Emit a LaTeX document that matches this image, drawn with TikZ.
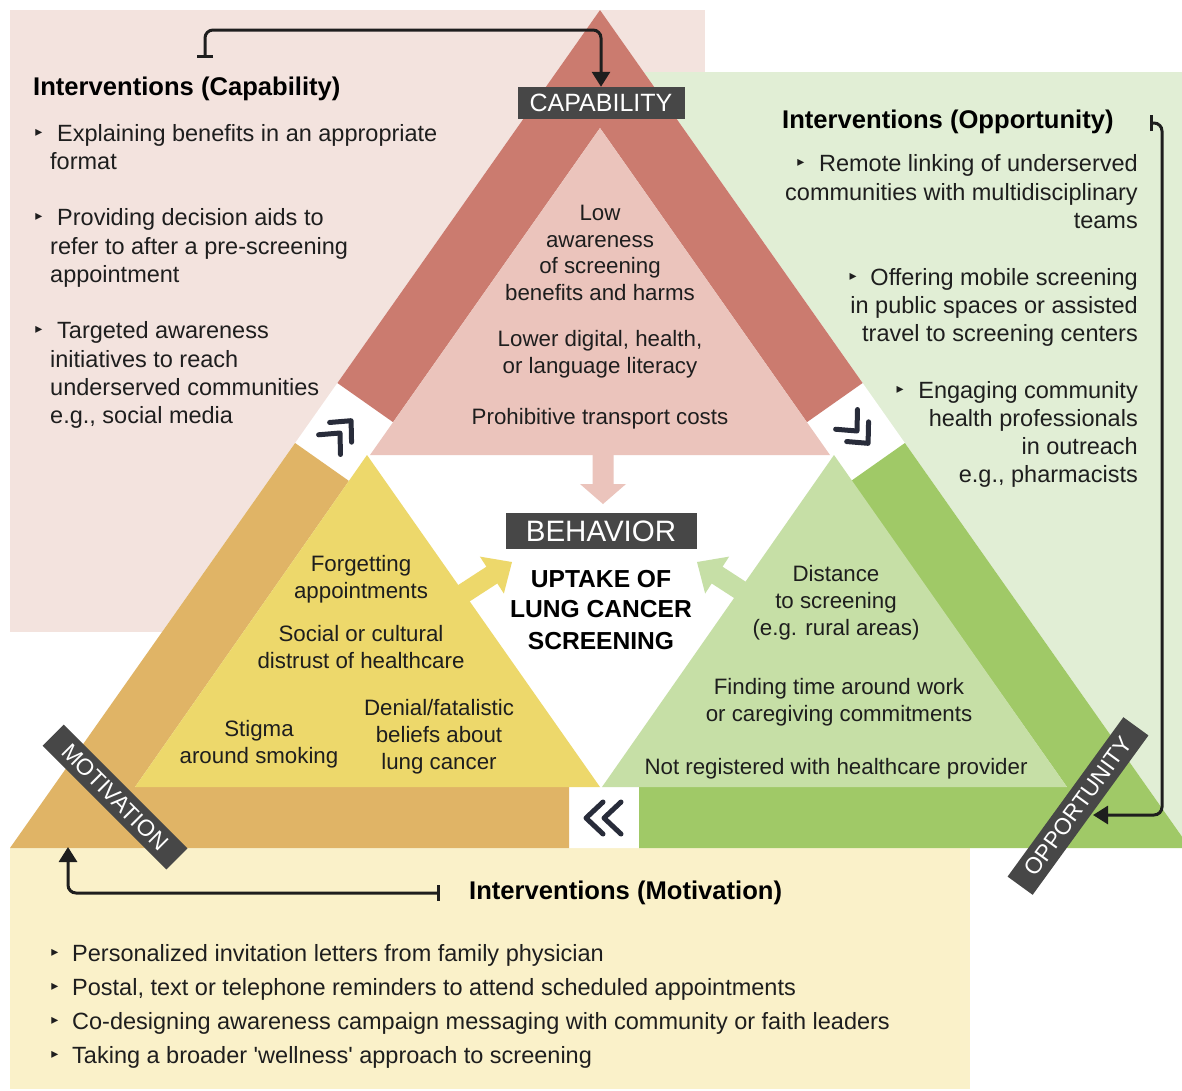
\documentclass[tikz,border=0pt]{standalone}
\usepackage{fontspec}
\setmainfont{Liberation Sans}
\newfontfamily\dejavu{DejaVu Sans}
\usetikzlibrary{arrows.meta}
\definecolor{capbg}{HTML}{F3E3DE}
\definecolor{capdark}{HTML}{CB7B6F}
\definecolor{caplight}{HTML}{EBC4BC}
\definecolor{oppbg}{HTML}{E1EED5}
\definecolor{oppdark}{HTML}{A0C967}
\definecolor{opplight}{HTML}{C6DFA6}
\definecolor{motbg}{HTML}{FAF1C9}
\definecolor{motdark}{HTML}{E0B466}
\definecolor{motlight}{HTML}{EDD86B}
\definecolor{labgray}{HTML}{474747}
\definecolor{chev}{HTML}{282C3A}
\definecolor{txt}{HTML}{1E1E1E}
\tikzset{
  tx/.style={font=\fontsize{23.5pt}{28pt}\selectfont, text=txt, inner sep=0pt},
  tri/.style={font=\fontsize{22.3pt}{27pt}\selectfont, text=txt, inner sep=0pt, anchor=base},
  ttl/.style={font=\fontsize{25.6pt}{30pt}\selectfont\bfseries, text=black, inner sep=0pt},
  ctr/.style={font=\fontsize{24.6pt}{30pt}\selectfont\bfseries, text=black, inner sep=0pt, anchor=base},
  bu/.style={font=\dejavu\fontsize{14pt}{14pt}\selectfont, text=txt, inner sep=0pt},
  lab/.style={fill=labgray, text=white, inner sep=0pt},
  conn/.style={line width=3pt, draw=txt, rounded corners=8pt},
  chevl/.style={line width=5pt, draw=chev, line cap=round, line join=round},
  dchev/.pic={
    \draw[chevl] (-17,-16) -- (0,0) -- (-17,16);
    \draw[chevl] (1,-16) -- (18,0) -- (1,16);
  }
}
\begin{document}
\begin{tikzpicture}[x=1pt,y=-1pt]
\useasboundingbox (0,0) rectangle (1182,1090);
\clip (0,0) rectangle (1182,1090);
\fill[white] (0,0) rectangle (1182,1090);
% backgrounds
\fill[capbg] (10,10) rectangle (600,632);
\fill[capbg] (600,10) rectangle (705,72);
\fill[oppbg] (600,72) rectangle (1182,848);
\fill[motbg] (10,848) rectangle (970,1089);
% geometry
\coordinate (A) at (600,10);
\coordinate (B) at (10,848);
\coordinate (C) at (1190,848);
\coordinate (P1) at (337.4,383);
\coordinate (Qa) at (393.1,422.2);
\coordinate (P1r) at (862.6,383);
\coordinate (Qb) at (806.9,422.2);
\coordinate (P2) at (295.1,443);
\coordinate (Q2) at (348.9,480.9);
\coordinate (P2r) at (904.9,443);
\coordinate (Q2r) at (851.1,480.9);
\fill[white] (A) -- (B) -- (C) -- cycle;
% capability
\fill[capdark] (A) -- (P1) -- (Qa) -- (600,128) -- (Qb) -- (P1r) -- cycle;
\fill[caplight] (600,128) -- (370,455) -- (830,455) -- cycle;
% motivation
\fill[motdark] (P2) -- (B) -- (569,848) -- (569,787) -- (135,787) -- (Q2) -- cycle;
\fill[motlight] (367,455) -- (135,787) -- (600,787) -- cycle;
% opportunity
\fill[oppdark] (P2r) -- (C) -- (639,848) -- (639,787) -- (1067,787) -- (Q2r) -- cycle;
\fill[opplight] (834,455) -- (1067,787) -- (602,787) -- cycle;
% block arrows
\fill[caplight, shift={(603,504)}, rotate=-90] (-60,-10.5) -- (-20,-10.5) -- (-20,-23) -- (0,0) -- (-20,23) -- (-20,10.5) -- (-60,10.5) -- cycle;
\fill[motlight, shift={(512,562)}, rotate=33] (-70,-10) -- (-24,-10) -- (-24,-22) -- (0,0) -- (-24,22) -- (-24,10) -- (-70,10) -- cycle;
\fill[opplight, shift={(697,562)}, rotate=147] (-70,-10) -- (-24,-10) -- (-24,-22) -- (0,0) -- (-24,22) -- (-24,10) -- (-70,10) -- cycle;
% chevrons
\pic[rotate=48, scale=0.92] (chevL) at (340,433) {dchev};
\pic[rotate=-48, scale=0.92] (chevR) at (857,431) {dchev};
\pic[rotate=180] (chevB) at (604,818) {dchev};
% capability panel text
\node[ttl, anchor=base west] (capttl) at (33,95) {Interventions (Capability)};
\node[bu] (cb1) at (39,133) {▸};
\node[tx, anchor=base west] (c1a) at (57,141) {Explaining benefits in an appropriate};
\node[tx, anchor=base west] (c1b) at (50,169) {format};
\node[bu] (cb2) at (39,217) {▸};
\node[tx, anchor=base west] (c2a) at (57,225) {Providing decision aids to};
\node[tx, anchor=base west] (c2b) at (50,254) {refer to after a pre-screening};
\node[tx, anchor=base west] (c2c) at (50,282) {appointment};
\node[bu] (cb3) at (39,330) {▸};
\node[tx, anchor=base west] (c3a) at (57,338) {Targeted awareness};
\node[tx, anchor=base west] (c3b) at (50,367) {initiatives to reach};
\node[tx, anchor=base west] (c3c) at (50,395) {underserved communities};
\node[tx, anchor=base west] (c3d) at (50,423) {e.g., social media};
% opportunity panel text
\node[ttl, anchor=base west] (oppttl) at (782,128) {Interventions (Opportunity)};
\node[bu] (ob1) at (801,163) {▸};
\node[tx, anchor=base east] (o1a) at (1138,171) {Remote linking of underserved};
\node[tx, anchor=base east] (o1b) at (1138,200) {communities with multidisciplinary};
\node[tx, anchor=base east] (o1c) at (1138,228) {teams};
\node[bu] (ob2) at (853,277) {▸};
\node[tx, anchor=base east] (o2a) at (1138,285) {Offering mobile screening};
\node[tx, anchor=base east] (o2b) at (1138,313) {in public spaces or assisted};
\node[tx, anchor=base east] (o2c) at (1138,341) {travel to screening centers};
\node[bu] (ob3) at (900,390) {▸};
\node[tx, anchor=base east] (o3a) at (1138,398) {Engaging community};
\node[tx, anchor=base east] (o3b) at (1138,426) {health professionals};
\node[tx, anchor=base east] (o3c) at (1138,454) {in outreach};
\node[tx, anchor=base east] (o3d) at (1138,482) {e.g., pharmacists};
% motivation panel text
\node[ttl, anchor=base west] (motttl) at (469,899) {Interventions (Motivation)};
\node[bu] (mb1) at (55,953) {▸};
\node[tx, anchor=base west] (m1) at (72,961) {Personalized invitation letters from family physician};
\node[bu] (mb2) at (55,987) {▸};
\node[tx, anchor=base west] (m2) at (72,995) {Postal, text or telephone reminders to attend scheduled appointments};
\node[bu] (mb3) at (55,1021) {▸};
\node[tx, anchor=base west] (m3) at (72,1029) {Co-designing awareness campaign messaging with community or faith leaders};
\node[bu] (mb4) at (55,1055) {▸};
\node[tx, anchor=base west] (m4) at (72,1063) {Taking a broader \textquotesingle wellness\textquotesingle{} approach to screening};
% capability triangle text
\node[tri] (k1) at (600,220) {Low};
\node[tri] (k2) at (600,247) {awareness};
\node[tri] (k3) at (600,273) {of screening};
\node[tri] (k4) at (600,300) {benefits and harms};
\node[tri] (k5) at (600,346) {Lower digital, health,};
\node[tri] (k6) at (600,373) {or language literacy};
\node[tri] (k7) at (600,424) {Prohibitive transport costs};
% motivation triangle text
\node[tri] (y1) at (361,571) {Forgetting};
\node[tri] (y2) at (361,598) {appointments};
\node[tri] (y3) at (361,641) {Social or cultural};
\node[tri] (y4) at (361,668) {distrust of healthcare};
\node[tri] (y5) at (259,736) {Stigma};
\node[tri] (y6) at (259,763) {around smoking};
\node[tri] (y7) at (439,715) {Denial/fatalistic};
\node[tri] (y8) at (439,742) {beliefs about};
\node[tri] (y9) at (439,769) {lung cancer};
% opportunity triangle text
\node[tri] (g1) at (836,581) {Distance};
\node[tri] (g2) at (836,608) {to screening};
\node[tri] (g3) at (836,635) {(e.g. rural areas)};
\node[tri] (g4) at (839,694) {Finding time around work};
\node[tri] (g5) at (839,721) {or caregiving commitments};
\node[tri] (g6) at (836,774) {Not registered with healthcare provider};
% centre
\node[ctr] (u1) at (601,587) {UPTAKE OF};
\node[ctr] (u2) at (601,617) {LUNG CANCER};
\node[ctr] (u3) at (601,649) {SCREENING};
% labels
\node[lab, font=\fontsize{25pt}{25pt}\selectfont, minimum width=167pt, minimum height=32pt] (caplab) at (601,103) {CAPABILITY};
\node[lab, font=\fontsize{29.5pt}{29.5pt}\selectfont, minimum width=191pt, minimum height=36pt] (behlab) at (601,531) {BEHAVIOR};
\node[lab, font=\fontsize{23pt}{23pt}\selectfont, rotate=-45, minimum width=175pt, minimum height=30pt] (motlab) at (115,797) {MOTIVATION};
\node[lab, font=\fontsize{23pt}{23pt}\selectfont, rotate=54, minimum width=197pt, minimum height=31pt] (opplab) at (1078,806) {OPPORTUNITY};
% connectors
\coordinate (capbar) at (205,58);
\coordinate (oppbar) at (1150,123);
\coordinate (opptip) at (1093,815);
\coordinate (motbar) at (440,893);
\coordinate (mottip) at (68,847);
\draw[conn, {Bar[width=16pt]}-{Triangle[length=15pt,width=18pt]}] (capbar) -- ++(0,-28) -| (caplab.north);
\draw[conn, {Bar[width=16pt]}-{Triangle[length=15pt,width=18pt]}] (oppbar) -- ++(12,0) |- (opptip);
\draw[conn, {Bar[width=16pt]}-{Triangle[length=15pt,width=18pt]}] (motbar) -| (mottip);
\end{tikzpicture}
\end{document}
